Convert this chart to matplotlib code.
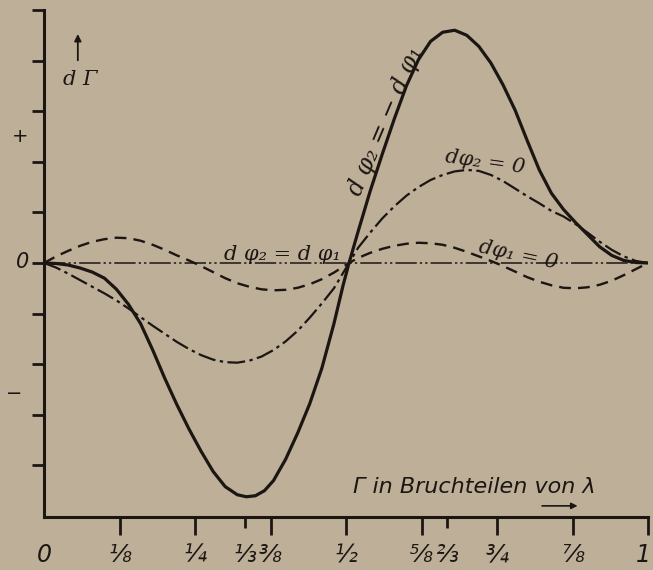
import matplotlib.pyplot as plt

# values, in y tick units (x in fractions of lambda)
solid_x = [0, 0.02, 0.04, 0.06, 0.08, 0.10, 0.12, 0.14, 0.16, 0.18,
           0.20, 0.22, 0.24, 0.26, 0.28, 0.30, 0.32, 0.335, 0.35, 0.365,
           0.38, 0.40, 0.42, 0.44, 0.46, 0.48, 0.495, 0.505, 0.52, 0.54,
           0.56, 0.58, 0.60, 0.62, 0.64, 0.66, 0.68, 0.70, 0.72, 0.74,
           0.76, 0.78, 0.80, 0.82, 0.84, 0.86, 0.88, 0.90, 0.92, 0.94,
           0.96, 0.98, 1.0]
solid_y = [0, -0.01, -0.04, -0.1, -0.18, -0.3, -0.52, -0.82, -1.2, -1.72,
           -2.28, -2.8, -3.28, -3.72, -4.12, -4.42, -4.58, -4.62, -4.6, -4.5,
           -4.3, -3.88, -3.36, -2.78, -2.08, -1.2, -0.45, 0, 0.62, 1.42,
           2.15, 2.85, 3.5, 4.02, 4.38, 4.56, 4.6, 4.5, 4.28, 3.95,
           3.52, 3.02, 2.42, 1.84, 1.38, 1.06, 0.8, 0.56, 0.32, 0.15,
           0.05, 0.01, 0]

dashdot_x = [0, 0.02, 0.04, 0.06, 0.08, 0.10, 0.12, 0.14, 0.16, 0.18,
             0.20, 0.22, 0.24, 0.26, 0.28, 0.30, 0.32, 0.34, 0.36, 0.38,
             0.40, 0.42, 0.44, 0.46, 0.48, 0.505, 0.52, 0.54, 0.56, 0.58,
             0.60, 0.62, 0.64, 0.66, 0.68, 0.70, 0.72, 0.74, 0.76, 0.78,
             0.80, 0.82, 0.84, 0.86, 0.88, 0.90, 0.92, 0.94, 0.96, 0.98,
             1.0]
dashdot_y = [0, -0.09, -0.21, -0.34, -0.47, -0.6, -0.74, -0.9, -1.07, -1.24,
             -1.4, -1.56, -1.7, -1.82, -1.91, -1.96, -1.97, -1.93, -1.85, -1.72,
             -1.55, -1.34, -1.08, -0.8, -0.5, 0, 0.3, 0.6, 0.88, 1.12,
             1.33, 1.5, 1.64, 1.74, 1.81, 1.84, 1.82, 1.74, 1.62, 1.47,
             1.32, 1.18, 1.03, 0.92, 0.77, 0.6, 0.42, 0.26, 0.13, 0.04,
             0]

dashed_x = [0, 0.02, 0.04, 0.06, 0.08, 0.10, 0.12, 0.14, 0.16, 0.18,
            0.20, 0.22, 0.24, 0.26, 0.28, 0.30, 0.32, 0.34, 0.36, 0.38,
            0.40, 0.42, 0.44, 0.46, 0.48, 0.505, 0.52, 0.54, 0.56, 0.58,
            0.60, 0.62, 0.64, 0.66, 0.68, 0.70, 0.72, 0.74, 0.76, 0.78,
            0.80, 0.82, 0.84, 0.86, 0.88, 0.90, 0.92, 0.94, 0.96, 0.98,
            1.0]
dashed_y = [0, 0.13, 0.24, 0.34, 0.42, 0.47, 0.5, 0.49, 0.44, 0.36,
            0.26, 0.15, 0.05, -0.06, -0.18, -0.3, -0.4, -0.47, -0.52, -0.54,
            -0.53, -0.49, -0.42, -0.32, -0.19, 0, 0.1, 0.2, 0.28, 0.34,
            0.38, 0.4, 0.39, 0.36, 0.3, 0.22, 0.13, 0.04, -0.06, -0.17,
            -0.28, -0.37, -0.44, -0.49, -0.5, -0.48, -0.43, -0.35, -0.24, -0.12,
            0]

xtick_pos = [1/8, 1/4, 3/8, 1/2, 5/8, 3/4, 7/8, 1]
xtick_minor = [1/3, 2/3]
xlabel_pos = [0, 1/8, 1/4, 1/3, 3/8, 1/2, 5/8, 2/3, 3/4, 7/8, 0.992]
xlabel_txt = ['0', '⅛', '¼', '⅓', '⅜', '½', '⅝', '⅔', '¾', '⅞', '1']
ytick_pos = [-4, -3, -2, -1, 0, 1, 2, 3, 4, 5]

bg = '#bdaf98'
ink = '#1c1613'

fig = plt.figure(figsize=(6.53, 5.70), dpi=100)
fig.patch.set_facecolor(bg)
ax = fig.add_axes([44/653, 53/570, 604/653, 507/570])
ax.set_facecolor(bg)
ax.set_xlim(0, 1)
ax.set_ylim(-5.02, 5.0)

for s in ['top', 'right']:
    ax.spines[s].set_visible(False)
for s in ['left', 'bottom']:
    ax.spines[s].set_linewidth(2.2)
    ax.spines[s].set_color(ink)

ax.set_xticks(xtick_pos)
ax.set_xticks(xtick_minor, minor=True)
ax.set_yticks(ytick_pos)
ax.set_xticklabels([])
ax.set_yticklabels([])
ax.tick_params(axis='x', which='major', direction='out', length=13, width=2, color=ink)
ax.tick_params(axis='x', which='minor', direction='out', length=8, width=2, color=ink)
ax.tick_params(axis='y', direction='out', length=9, width=2, color=ink)

# curves
ax.plot([0, 1], [0, 0], color=ink, lw=1.1, dashes=(14, 2, 1.5, 2, 1.5, 2))
ax.plot(dashed_x, dashed_y, color=ink, lw=1.7, dashes=(5, 3))
ax.plot(dashdot_x, dashdot_y, color=ink, lw=1.6, dashes=(8, 2, 1.5, 2))
ax.plot(solid_x, solid_y, color=ink, lw=2.3, solid_capstyle='round')

# tick labels
for xp, lab in zip(xlabel_pos, xlabel_txt):
    ax.text(xp, -5.78, lab, ha='center', va='center', fontsize=17,
            style='italic', color=ink, clip_on=False)
ax.text(-0.036, 0.02, '0', ha='center', va='center', fontsize=15,
        style='italic', color=ink, clip_on=False)
ax.text(-0.04, 2.5, '+', ha='center', va='center', fontsize=14,
        color=ink, clip_on=False)
ax.text(-0.05, -2.58, '−', ha='center', va='center', fontsize=14,
        color=ink, clip_on=False)

# axis captions
ax.annotate('', xy=(0.056, 4.58), xytext=(0.056, 3.95),
            arrowprops=dict(arrowstyle='-|>', color=ink, lw=1.3, mutation_scale=10))
ax.text(0.06, 3.62, 'd Γ', ha='center', va='center', fontsize=15,
        style='italic', family='DejaVu Serif', color=ink)
ax.text(0.512, -4.42, 'Γ in Bruchteilen von λ', ha='left', va='center',
        fontsize=16, style='italic', color=ink)
ax.annotate('', xy=(0.888, -4.8), xytext=(0.82, -4.8),
            arrowprops=dict(arrowstyle='-|>', color=ink, lw=1.2, mutation_scale=9))

# curve labels
serif = dict(style='italic', family='DejaVu Serif', color=ink)
ax.text(0.395, 0.16, 'd φ₂ = d φ₁', ha='center', va='center', fontsize=15, **serif)
ax.text(0.565, 2.8, 'd φ₂ = − d φ₁', ha='center', va='center', fontsize=17,
        rotation=67, **serif)
ax.text(0.73, 2.0, 'dφ₂ = 0', ha='center', va='center', fontsize=15,
        rotation=-8, **serif)
ax.text(0.785, 0.16, 'dφ₁ = 0', ha='center', va='center', fontsize=15,
        rotation=-12, **serif)

fig.savefig('out.png', dpi=100, facecolor=bg)
